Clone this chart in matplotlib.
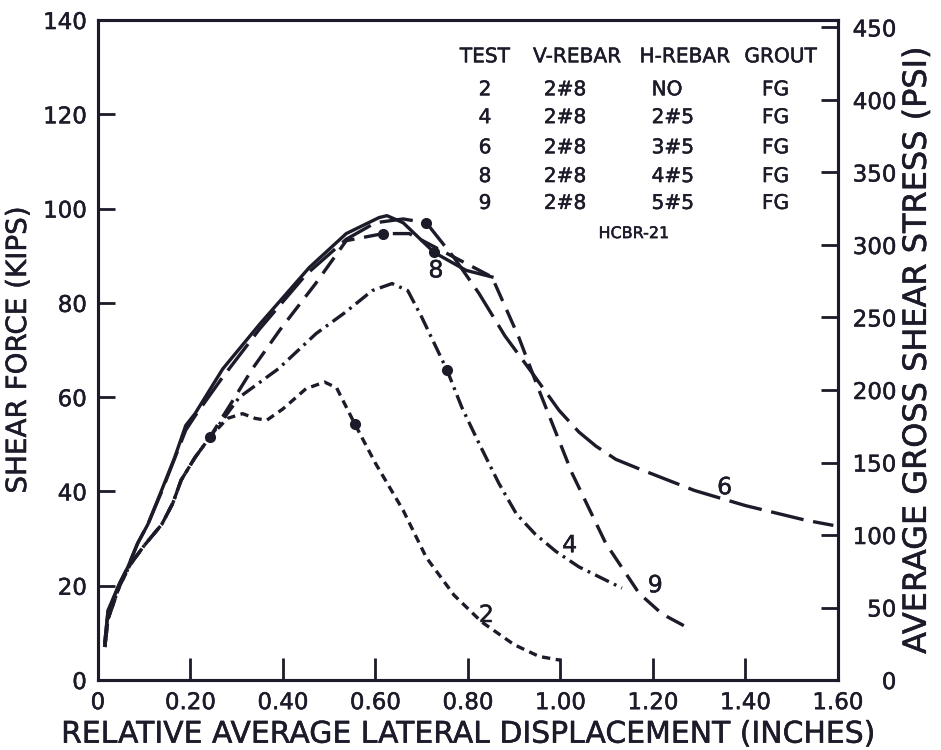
import matplotlib
matplotlib.use("Agg")
import matplotlib.pyplot as plt
import matplotlib.patheffects as pe

# (x = inches, y = kips)
x2 = [0.015, 0.022, 0.047, 0.07, 0.10, 0.138, 0.162, 0.18, 0.21, 0.242, 0.28, 0.313, 0.34, 0.365,
      0.40, 0.45, 0.49, 0.516, 0.555, 0.60, 0.66, 0.71, 0.77, 0.83, 0.90, 0.954, 1.00]
y2 = [7, 13, 20, 24.5, 28.5, 33, 37.5, 42.4, 47.2, 51.5, 55.5, 56.5, 55.5, 55.1,
      57.5, 61.8, 63.2, 62, 54.4, 46, 36, 26, 18, 12.3, 7.5, 5, 4.2]

x4 = [0.015, 0.022, 0.047, 0.07, 0.10, 0.138, 0.162, 0.18, 0.21, 0.242, 0.306, 0.39, 0.472, 0.535,
      0.593, 0.636, 0.67, 0.70, 0.755, 0.787, 0.824, 0.867, 0.905, 0.945, 0.99, 1.04, 1.133]
y4 = [7, 13, 20, 24.5, 28.5, 33, 37.5, 42.4, 47.2, 51.5, 60, 66, 73.5, 78,
      82.6, 84.1, 82.6, 77, 65.7, 57.8, 50.2, 41.7, 35.2, 31, 27.3, 24, 19.5]

x6 = [0.015, 0.022, 0.047, 0.065, 0.086, 0.108, 0.138, 0.166, 0.19, 0.21, 0.268, 0.35, 0.45, 0.537,
      0.60, 0.66, 0.71, 0.77, 0.824, 0.88, 0.94, 0.997, 1.04, 1.077, 1.12, 1.17, 1.29, 1.40, 1.53, 1.59]
y6 = [8, 14.5, 20.5, 24, 29, 33, 40, 47, 53, 56, 64, 74.5, 86, 93.5,
      97, 97.8, 97, 89.6, 82, 73, 65, 57.2, 52.6, 49.6, 46.8, 44.8, 40.2, 37, 33.9, 32.8]

x8 = [0.015, 0.022, 0.047, 0.065, 0.086, 0.108, 0.138, 0.166, 0.19, 0.21, 0.27, 0.35, 0.457, 0.537,
      0.608, 0.625, 0.66, 0.727, 0.796, 0.852]
y8 = [8, 14.8, 20.5, 24, 29, 33, 40.3, 47.2, 54, 56.5, 66, 75.5, 87.5, 94.7,
      98.1, 98.5, 97, 90.7, 86.9, 85.5]

x9 = [0.015, 0.022, 0.047, 0.07, 0.10, 0.138, 0.162, 0.18, 0.21, 0.242, 0.29, 0.334, 0.393, 0.47,
      0.537, 0.617, 0.673, 0.77, 0.852, 0.91, 0.954, 1.025, 1.098, 1.17, 1.22, 1.277]
y9 = [7, 13, 20, 24.5, 28.5, 33, 37.5, 42.4, 47.2, 51.5, 59, 66, 74.2, 84,
      93.2, 94.7, 94.7, 89.7, 85.5, 72.7, 61.4, 43.9, 29, 18.4, 14, 11]

# solid dots on the curves
dot_x = [0.242, 0.555, 0.755, 0.71, 0.727, 0.617]
dot_y = [51.5, 54.4, 65.7, 97, 90.7, 94.7]

# curve numbers
lab_txt = ["2", "4", "6", "8", "9"]
lab_x = [0.84, 1.02, 1.355, 0.731, 1.205]
lab_y = [13.8, 28.6, 40.9, 86.9, 20.1]

# table
tab_head = ["TEST", "V-REBAR", "H-REBAR", "GROUT"]
tab_test = ["2", "4", "6", "8", "9"]
tab_vreb = ["2#8", "2#8", "2#8", "2#8", "2#8"]
tab_hreb = ["NO", "2#5", "3#5", "4#5", "5#5"]
tab_grout = ["FG", "FG", "FG", "FG", "FG"]

xticks = [0, 0.2, 0.4, 0.6, 0.8, 1.0, 1.2, 1.4, 1.6]
xtick_labels = ["0", "0.20", "0.40", "0.60", "0.80", "1.00", "1.20", "1.40", "1.60"]
yticks = [0, 20, 40, 60, 80, 100, 120, 140]
psi_ticks = [0, 50, 100, 150, 200, 250, 300, 350, 400, 450]
psi_per_kip = 3.251

ink = "#1b1b29"
thick = [pe.withStroke(linewidth=0.35, foreground=ink)]
plt.rcParams["lines.scale_dashes"] = False
plt.rcParams["font.family"] = "DejaVu Sans"

fig = plt.figure(figsize=(9.41, 7.5), dpi=100)
ax = fig.add_axes([0.104, 0.0933, 0.7865, 0.88])

lw = 2.4
ax.plot(x2, y2, color=ink, lw=lw, ls=(0, (6, 4)))
ax.plot(x4, y4, color=ink, lw=lw, ls=(0, (11, 4, 2, 4)))
ax.plot(x6, y6, color=ink, lw=lw, ls=(0, (24, 7)))
ax.plot(x8, y8, color=ink, lw=lw, ls="-")
ax.plot(x9, y9, color=ink, lw=lw, ls=(0, (14, 7)))
ax.plot(dot_x, dot_y, "o", color=ink, ms=7)

for t, x, y in zip(lab_txt, lab_x, lab_y):
    ax.text(x, y, t, fontsize=17, color=ink, ha="center", va="center", path_effects=thick)

# table text
rows_y = [125.2, 119.3, 112.9, 106.8, 101.1]
kw = dict(fontsize=14.5, color=ink, va="center", path_effects=thick)
ax.text(0.837, 132.2, tab_head[0], ha="center", **kw)
ax.text(1.036, 132.2, tab_head[1], ha="center", **kw)
ax.text(1.269, 132.2, tab_head[2], ha="center", **kw)
ax.text(1.476, 132.2, tab_head[3], ha="center", **kw)
for i, ry in enumerate(rows_y):
    ax.text(0.837, ry, tab_test[i], ha="center", **kw)
    ax.text(1.01, ry, tab_vreb[i], ha="center", **kw)
    ax.text(1.197, ry, tab_hreb[i], ha="left", **kw)
    ax.text(1.465, ry, tab_grout[i], ha="center", **kw)
ax.text(1.159, 94.7, "HCBR-21", fontsize=11.5, color=ink, ha="center", va="center", path_effects=thick)

ax.set_xlim(0, 1.6)
ax.set_ylim(0, 140)
ax.set_xticks(xticks)
ax.set_xticklabels(xtick_labels)
ax.set_yticks(yticks)
ax.tick_params(direction="in", length=12, width=2, colors=ink, labelsize=16.5, pad=8)
ax.tick_params(axis="x", length=16)
ax.set_xlabel("RELATIVE AVERAGE LATERAL DISPLACEMENT (INCHES)", fontsize=21.5, color=ink,
              labelpad=4, path_effects=thick)
ax.set_ylabel("SHEAR FORCE (KIPS)", fontsize=20, color=ink, labelpad=8, path_effects=thick)
for s in ax.spines.values():
    s.set_linewidth(2.2)
    s.set_color(ink)

ax2 = ax.twinx()
ax2.set_ylim(0, 140 * psi_per_kip)
ax2.set_yticks(psi_ticks)
# right-hand labels are right-aligned in the original
ax2.tick_params(direction="in", length=12, width=2, colors=ink, labelsize=16.5, pad=42)
for lbl in ax2.get_yticklabels():
    lbl.set_horizontalalignment("right")
ax2.set_ylabel("AVERAGE GROSS SHEAR STRESS (PSI)", fontsize=23, color=ink, labelpad=4,
               path_effects=thick)
for s in ax2.spines.values():
    s.set_linewidth(2.2)
    s.set_color(ink)

for lbl in ax.get_xticklabels() + ax.get_yticklabels() + ax2.get_yticklabels():
    lbl.set_path_effects(thick)

fig.savefig("out.png", dpi=100)
